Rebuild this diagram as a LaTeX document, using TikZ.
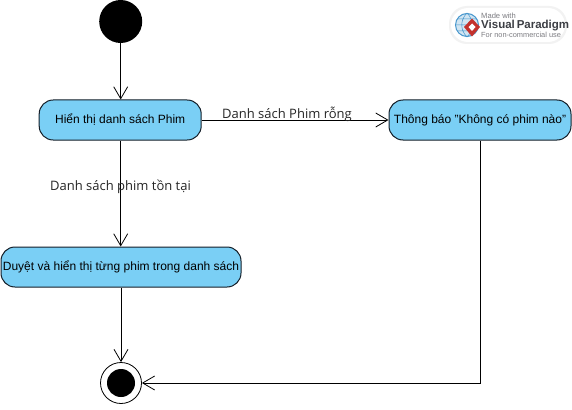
\documentclass[tikz,border=0pt]{standalone}
\usepackage{fontspec}
\setmainfont{Liberation Sans}
\newfontfamily\edgefont{Open Sans}
\usetikzlibrary{arrows.meta}
\definecolor{boxfill}{RGB}{122,207,245}
\definecolor{boxline}{RGB}{20,30,40}
\definecolor{logogrey}{RGB}{125,125,130}
\definecolor{logodark}{RGB}{60,62,68}
\definecolor{globeblue}{RGB}{70,150,205}
\definecolor{logored}{RGB}{196,50,45}
\tikzset{
  action/.style={draw=boxline,fill=boxfill,line width=1pt,rounded corners=14pt,minimum height=40pt,inner sep=0pt,font=\fontsize{12}{14}\selectfont,text=black},
  flow/.style={draw=black,line width=0.8pt,-{Straight Barb[length=12pt,width=14pt,line width=0.8pt]}},
  edgelabel/.style={font=\edgefont\fontsize{13}{15}\selectfont,text=black!85,inner sep=0pt},
  startdot/.style={circle,fill=black,minimum size=43pt,inner sep=0pt},
  enddot/.style={circle,draw=black,line width=0.8pt,fill=white,minimum size=41pt,inner sep=0pt},
  endcore/.style={circle,fill=black,minimum size=28pt,inner sep=0pt},
  logotext/.style={anchor=west,inner sep=0pt}
}
\begin{document}
\begin{tikzpicture}[x=1pt,y=-1pt]
\useasboundingbox (0,0) rectangle (572,409);
\fill[white] (0,0) rectangle (572,409);

% logo
\fill[black!5,rounded corners=18pt] (449,6) rectangle (567,44);
\fill[white,rounded corners=17pt] (451,8) rectangle (565,42);
\node[circle,draw=globeblue,fill=globeblue!25,line width=1pt,minimum size=23pt,inner sep=0pt] (globe) at (467,25) {};
\draw[globeblue,line width=.5pt] (globe.north) .. controls (460,20) and (460,30) .. (globe.south)
  (globe.north) .. controls (474,20) and (474,30) .. (globe.south)
  (globe.west) -- (globe.east) (457.5,19) -- (476.5,19) (457.5,31) -- (476.5,31);
\fill[logored] (472,18.5) -- (480,27) -- (472,36.5) -- (464,27) -- cycle;
\fill[white] (472,23.5) -- (475.5,27) -- (472,31) -- (468.5,27) -- cycle;
\node[logotext,text=logogrey,font=\fontsize{7.6}{8}\selectfont] (logoa) at (481,16) {Made with};
\node[logotext,text=logodark,font=\bfseries\fontsize{11.5}{12}\selectfont] (logob) at (481,25.5) {Visual\,Paradigm};
\node[logotext,text=logogrey,font=\fontsize{7.4}{8}\selectfont] (logoc) at (481,34.5) {For non-commercial use};

% nodes
\node[startdot] (start) at (120.7,21.5) {};
\node[action,minimum width=162pt] (list) at (120.2,120) {Hiển thị danh sách Phim};
\node[action,minimum width=182pt] (notice) at (480,120) {Thông báo \char34 Không có phim nào\char34};
\node[action,minimum width=240pt] (browse) at (121,267) {Duyệt và hiển thị từng phim trong danh sách};
\node[enddot] (end) at (121,383) {};
\node[endcore] (endc) at (121,383) {};

% connectors
\draw[flow] (start) -- (start |- list.north);
\draw[flow] (start |- list.south) -- (start |- browse.north);
\draw[flow] (browse) -- (end);
\draw[flow] (list) -- (notice);
\draw[flow] (notice.south) |- (end.east);

% labels
\node[edgelabel] (l1) at (287,114) {Danh sách Phim rỗng};
\node[edgelabel] (l2) at (120.5,187) {Danh sách phim tồn tại};
\end{tikzpicture}
\end{document}
